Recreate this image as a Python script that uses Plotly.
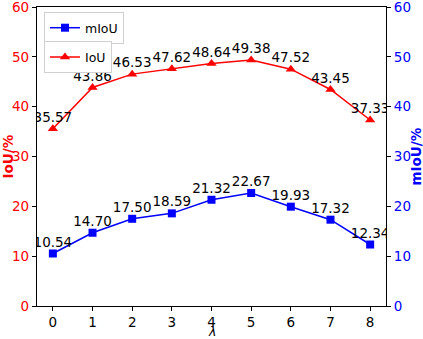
import plotly.graph_objects as go

lam = [0, 1, 2, 3, 4, 5, 6, 7, 8]
miou = [10.54, 14.70, 17.50, 18.59, 21.32, 22.67, 19.93, 17.32, 12.34]
iou = [35.57, 43.86, 46.53, 47.62, 48.64, 49.38, 47.52, 43.45, 37.33]
yticks = [0, 10, 20, 30, 40, 50, 60]

font = "DejaVu Sans"

fig = go.Figure()
fig.add_trace(go.Scatter(
    x=lam, y=miou, name="mIoU", mode="lines+markers",
    line=dict(color="blue", width=1.5),
    marker=dict(symbol="square", size=8, color="blue"),
    yaxis="y2", legend="legend",
))
fig.add_trace(go.Scatter(
    x=lam, y=iou, name="IoU", mode="lines+markers",
    line=dict(color="red", width=1.5),
    marker=dict(symbol="triangle-up", size=9, color="red"),
    yaxis="y", legend="legend2",
))
# value labels (invisible small markers give a small gap above the points)
fig.add_trace(go.Scatter(
    x=lam, y=miou, mode="markers+text", showlegend=False, yaxis="y2",
    marker=dict(size=4, opacity=0), hoverinfo="skip",
    text=[f"{v:.2f}" for v in miou], textposition="top center",
    textfont=dict(family=font, size=13.5, color="black"),
))
fig.add_trace(go.Scatter(
    x=lam, y=iou, mode="markers+text", showlegend=False, yaxis="y",
    marker=dict(size=4, opacity=0), hoverinfo="skip",
    text=[f"{v:.2f}" for v in iou], textposition="top center",
    textfont=dict(family=font, size=13.5, color="black"),
))

def legend_box(ypos):
    return dict(
        bgcolor="white", bordercolor="#d0d0d0", borderwidth=1,
        font=dict(family=font, size=12.5, color="black"),
        xanchor="left", yanchor="top", x=0.02, y=ypos,
        itemwidth=30,
    )

axis_common = dict(
    range=[0, 60], tickvals=yticks, showgrid=False, zeroline=False,
    showline=True, linecolor="black", linewidth=1.2,
    ticks="outside", ticklen=4, tickcolor="black", automargin=False,
    ticklabeloverflow="allow",
)

fig.update_layout(
    width=423, height=339,
    margin=dict(l=37, r=37, t=7, b=33),
    plot_bgcolor="white", paper_bgcolor="white",
    font=dict(family=font, size=13.5),
    showlegend=True,
    xaxis=dict(
        range=[-0.4, 8.4], tickvals=lam, showgrid=False, zeroline=False,
        showline=True, linecolor="black", linewidth=1.2, mirror=True,
        ticks="outside", ticklen=4, tickcolor="black", automargin=False,
        tickfont=dict(family=font, size=13.5, color="black"),
    ),
    yaxis=dict(axis_common, tickfont=dict(family=font, size=13.5, color="red")),
    yaxis2=dict(axis_common, overlaying="y", side="right",
                tickfont=dict(family=font, size=13.5, color="blue")),
    legend=legend_box(0.983),
    legend2=legend_box(0.885),
    annotations=[
        dict(text="<i>λ</i>", xref="paper", yref="paper", x=0.5, y=0, yshift=-25,
             xanchor="center", yanchor="middle", showarrow=False,
             font=dict(family=font, size=12.5, color="black")),
        dict(text="<b>IoU/%</b>", xref="paper", yref="paper", x=0, y=0.5, xshift=-30,
             xanchor="center", yanchor="middle", textangle=-90, showarrow=False,
             font=dict(family=font, size=13.5, color="red")),
        dict(text="<b>mIoU/%</b>", xref="paper", yref="paper", x=1, y=0.5, xshift=29,
             xanchor="center", yanchor="middle", textangle=-90, showarrow=False,
             font=dict(family=font, size=13.5, color="blue")),
    ],
)

fig.write_html("out.html", config={"displayModeBar": False},
               post_script="document.body.style.margin='0px';")
